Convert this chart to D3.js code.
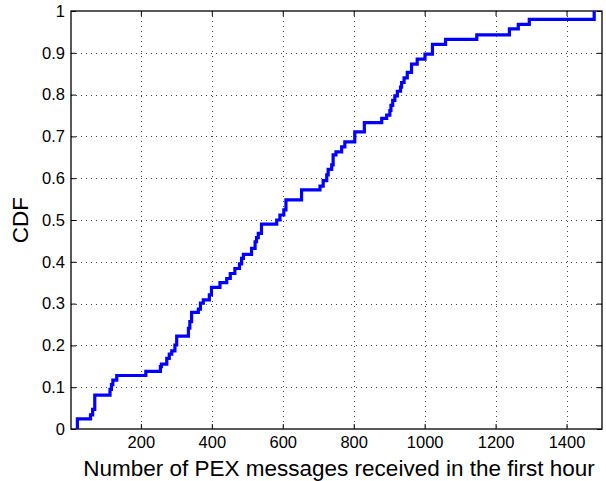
<!DOCTYPE html>
<html>
<head>
<meta charset="utf-8">
<script src="https://cdn.jsdelivr.net/npm/d3@7"></script>
<style>
  body { margin: 0; background: #fff; }
  svg { display: block; font-family: "Liberation Sans", Arial, sans-serif; }
</style>
</head>
<body>
<div id="chart"></div>
<script>
// step points of the empirical CDF: jump position (messages) and CDF value after the jump
const messages = [21, 21, 58, 64, 70, 113, 117, 121, 132, 214, 255, 258, 273, 280, 287, 296, 301,
  334, 338, 343, 362, 368, 376, 393, 399, 423, 442, 452, 465, 478, 484, 489, 512, 522, 526, 531,
  540, 583, 592, 603, 609, 653, 705, 714, 724, 728, 738, 742, 750, 766, 775, 803, 830, 879, 893,
  902, 905, 910, 916, 923, 932, 935, 942, 951, 963, 979, 1001, 1022, 1059, 1147, 1239, 1264,
  1295, 1478];
const cdf = [0, 0.024, 0.034, 0.047, 0.081, 0.095, 0.106, 0.117, 0.128, 0.138, 0.149, 0.155,
  0.169, 0.179, 0.187, 0.201, 0.222, 0.241, 0.257, 0.279, 0.287, 0.301, 0.309, 0.321, 0.339,
  0.35, 0.36, 0.372, 0.384, 0.395, 0.408, 0.418, 0.432, 0.448, 0.458, 0.468, 0.49, 0.5, 0.512,
  0.524, 0.548, 0.572, 0.581, 0.594, 0.608, 0.621, 0.632, 0.656, 0.663, 0.675, 0.687, 0.711,
  0.733, 0.743, 0.751, 0.762, 0.774, 0.786, 0.797, 0.808, 0.818, 0.829, 0.84, 0.853, 0.873,
  0.885, 0.897, 0.92, 0.932, 0.943, 0.957, 0.968, 0.98, 1.0];

const xTicks = [200, 400, 600, 800, 1000, 1200, 1400];
const yTicks = [0, 0.1, 0.2, 0.3, 0.4, 0.5, 0.6, 0.7, 0.8, 0.9, 1];

const W = 606, H = 481;
const m = { left: 71, right: 602, top: 11, bottom: 429 };

const svg = d3.select('#chart').append('svg').attr('width', W).attr('height', H);

const x = d3.scaleLinear().domain([3, 1500]).range([m.left, m.right]);
const y = d3.scaleLinear().domain([0, 1]).range([m.bottom, m.top]);

// grid
const grid = svg.append('g').attr('stroke', '#444').attr('stroke-width', 1)
  .attr('stroke-dasharray', '1,4').attr('shape-rendering', 'crispEdges');
grid.selectAll('.gx').data(xTicks).enter().append('line')
  .attr('x1', d => Math.round(x(d)) + 0.5).attr('x2', d => Math.round(x(d)) + 0.5)
  .attr('y1', m.top).attr('y2', m.bottom);
grid.selectAll('.gy').data(yTicks.slice(1, -1)).enter().append('line')
  .attr('y1', d => Math.round(y(d)) + 0.5).attr('y2', d => Math.round(y(d)) + 0.5)
  .attr('x1', m.left).attr('x2', m.right);

// axes with inward ticks
const fmtY = d => d3.format('.1~f')(d);
const gx = svg.append('g').attr('transform', `translate(0,${m.bottom})`)
  .call(d3.axisBottom(x).tickValues(xTicks).tickSize(-5).tickPadding(7).tickFormat(d3.format('d')));
const gxTop = svg.append('g').attr('transform', `translate(0,${m.top})`)
  .call(d3.axisTop(x).tickValues(xTicks).tickSize(-5).tickFormat(''));
const gy = svg.append('g').attr('transform', `translate(${m.left},0)`)
  .call(d3.axisLeft(y).tickValues(yTicks).tickSize(-5).tickPadding(6).tickFormat(fmtY));
const gyRight = svg.append('g').attr('transform', `translate(${m.right},0)`)
  .call(d3.axisRight(y).tickValues(yTicks).tickSize(-5).tickFormat(''));

[gx, gxTop, gy, gyRight].forEach(g => {
  g.select('.domain').remove();
  g.selectAll('line').attr('stroke', '#000');
  g.selectAll('text').attr('font-size', 16.5).attr('fill', '#000')
    .attr('font-family', '"Liberation Sans", Arial, sans-serif');
});

// box
svg.append('rect').attr('x', m.left).attr('y', m.top)
  .attr('width', m.right - m.left).attr('height', m.bottom - m.top)
  .attr('fill', 'none').attr('stroke', '#000').attr('stroke-width', 1.3);

// the CDF curve
const pts = messages.map((v, i) => [v, cdf[i]]);
const line = d3.line().x(d => x(d[0])).y(d => y(d[1])).curve(d3.curveStepAfter);
svg.append('path').datum(pts).attr('d', line)
  .attr('fill', 'none').attr('stroke', '#0000ff').attr('stroke-width', 3.2)
  .attr('stroke-linejoin', 'miter');

// labels
svg.append('text').attr('x', 339).attr('y', 476).attr('text-anchor', 'middle')
  .attr('font-size', 22.5).text('Number of PEX messages received in the first hour');
svg.append('text').attr('transform', `translate(28,${(m.top + m.bottom) / 2}) rotate(-90)`)
  .attr('text-anchor', 'middle').attr('font-size', 22.5).text('CDF');
</script>
</body>
</html>
